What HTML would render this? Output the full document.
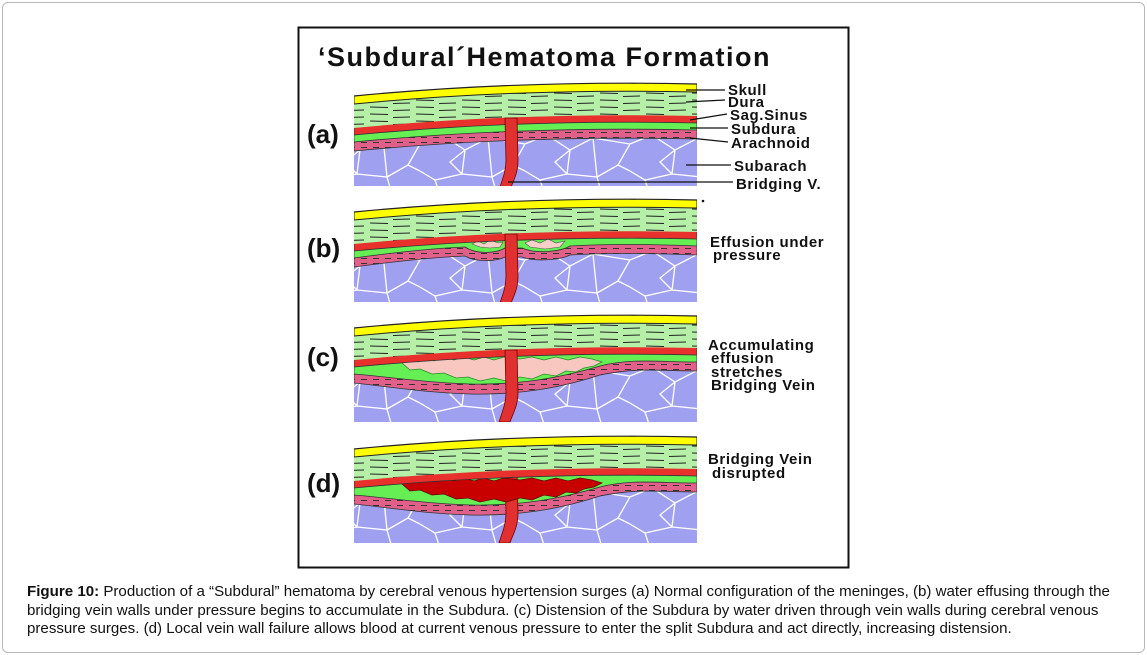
<!DOCTYPE html>
<html><head><meta charset="utf-8"><style>
html,body{margin:0;padding:0;background:#fff;}
body{width:1147px;height:655px;position:relative;overflow:hidden;font-family:"Liberation Sans",sans-serif;}
.frame{position:absolute;left:2px;top:2px;width:1141px;height:649px;border:1px solid #b8b8b8;border-radius:6px;}
.cap{position:absolute;left:27px;top:583px;width:1100px;font-size:15.1px;line-height:18.5px;color:#111;}
</style></head><body>
<div class="frame"></div>
<svg width="1147" height="655" style="position:absolute;left:0;top:0">
<defs>
<pattern id="dash" patternUnits="userSpaceOnUse" width="46" height="7">
<line x1="2" y1="2" x2="20" y2="2.5" stroke="#222" stroke-width="1"/>
<line x1="25" y1="5.5" x2="42" y2="5" stroke="#222" stroke-width="1"/>
</pattern>
<pattern id="adash" patternUnits="userSpaceOnUse" width="12" height="5">
<line x1="1" y1="2.5" x2="7" y2="2.5" stroke="#333" stroke-width="1"/>
</pattern>
<pattern id="cells" patternUnits="userSpaceOnUse" width="105" height="66">
<path d="M0,12 L22,3 L45,18 L68,6 L105,12 M22,3 L18,-3 M45,18 L42,42 L15,48 L0,39 M42,42 L72,45 L68,6 M72,45 L93,33 L105,39 M93,33 L105,12 M15,48 L21,66 M72,45 L78,66 M45,18 L30,30 L42,42" stroke="#fff" stroke-width="1.3" fill="none"/>
</pattern>
<clipPath id="pc"><rect x="354" y="70" width="343" height="120"/></clipPath>
<g id="base">
<rect x="354" y="70" width="343" height="120" fill="#a0a0f0"/>
<rect x="354" y="70" width="343" height="120" fill="url(#cells)"/>
</g>
<path id="vein" d="M505,118 L517,118 L518,160 C518,175 512,183 510,190 L499,190 C502,180 506,172 506,160 Z" fill="#e03030" stroke="#700" stroke-width="0.8"/>
<g id="top">
<path d="M354,70 L697,70 L697,116 Q520,112 354,128 Z" fill="#b6f0a8"/>
<path d="M354,70 L697,70 L697,116 Q520,112 354,128 Z" fill="url(#dash)"/>
<path d="M354,70 L697,70 L697,92 Q520,88 354,104 Z" fill="#ffff00" stroke="#222" stroke-width="1"/>
<path d="M354,60 L697,60 L697,84 Q520,80 354,96 Z" fill="#fff"/>
<path d="M697,84 Q520,80 354,96" fill="none" stroke="#222" stroke-width="1.2"/>
</g>
<path id="arS" d="M354,70 L697,70 L697,139 C660,139 640,135 600,143 C560,156 520,163 470,162 C420,160 400,156 354,151 Z"/>
<path id="subS" d="M354,70 L697,70 L697,130 C660,130 630,126 600,134 C560,146 520,153 470,152 C420,150 400,146 354,142 Z"/>
<path id="eff" d="M402,131 L410,127 L418,130 L426,126 L434,129 L444,125 L454,128 L464,125 L474,128 L484,125 L494,128 L504,125 L520,127 L532,125 L544,128 L556,125 L568,128 L580,125 L592,127 L602,130 L594,134 L584,136 L576,140 L566,139 L556,144 L544,142 L532,147 L520,145 L506,149 L494,146 L480,149 L468,145 L456,146 L444,141 L432,142 L420,137 L410,138 Z"/>
</defs>

<rect x="298.5" y="27.5" width="550" height="540" fill="#fff" stroke="#111" stroke-width="2"/>
<text x="318" y="66" font-family="Liberation Sans,sans-serif" font-weight="bold" font-size="27" letter-spacing="1.5" fill="#111">‘Subdural´Hematoma Formation</text>

<!-- Panel a -->
<g clip-path="url(#pc)">
<use href="#base"/>
<path d="M354,70 L697,70 L697,139 Q520,135 354,151 Z" fill="#e0608a" stroke="#333" stroke-width="0.8"/>
<path d="M354,70 L697,70 L697,139 Q520,135 354,151 Z" fill="url(#adash)"/>
<path d="M354,70 L697,70 L697,130 Q520,126 354,142 Z" fill="#66ee55" stroke="#333" stroke-width="0.8"/>
<path d="M354,70 L697,70 L697,123 Q520,119 354,135 Z" fill="#e8302c" stroke="#333" stroke-width="0.8"/>
<use href="#top"/>
<use href="#vein"/>
</g>

<!-- Panel b -->
<g transform="translate(0,116)">
<g clip-path="url(#pc)">
<use href="#base"/>
<path d="M354,70 L697,70 L697,139 Q620,136 570,139 C560,144 535,146 522,141 L505,141 C495,146 475,146 465,140 Q420,142 354,151 Z" fill="#e0608a" stroke="#333" stroke-width="0.8"/>
<path d="M354,70 L697,70 L697,139 Q620,136 570,139 C560,144 535,146 522,141 L505,141 C495,146 475,146 465,140 Q420,142 354,151 Z" fill="url(#adash)"/>
<path d="M354,70 L697,70 L697,130 Q620,127 570,130 C560,136 535,138 522,132 L505,132 C495,138 475,138 465,131 Q420,133 354,142 Z" fill="#66ee55" stroke="#333" stroke-width="0.8"/>
<path d="M472,128 L478,125 L484,128 L490,124 L498,127 L503,126 L500,131 L490,132 L480,131 Z" fill="#f8d0c8" stroke="#555" stroke-width="0.6"/>
<path d="M525,127 L532,124 L540,127 L548,123 L556,127 L565,125 L560,131 L545,133 L530,131 Z" fill="#f8d0c8" stroke="#555" stroke-width="0.6"/>
<path d="M354,70 L697,70 L697,123 Q520,119 354,135 Z" fill="#e8302c" stroke="#333" stroke-width="0.8"/>
<use href="#top"/>
<use href="#vein"/>
</g>
</g>

<!-- Panel c -->
<g transform="translate(0,232)">
<g clip-path="url(#pc)">
<use href="#base"/>
<use href="#arS" fill="#e0608a" stroke="#333" stroke-width="0.8"/>
<use href="#arS" fill="url(#adash)"/>
<use href="#subS" fill="#66ee55" stroke="#333" stroke-width="0.8"/>
<use href="#eff" fill="#f8c8c0" stroke="#2a8a2a" stroke-width="0.8"/>
<path d="M354,70 L697,70 L697,123 Q520,119 354,135 Z" fill="#e8302c" stroke="#333" stroke-width="0.8"/>
<use href="#top"/>
<use href="#vein"/>
</g>
</g>

<!-- Panel d -->
<g transform="translate(0,353)">
<g clip-path="url(#pc)">
<use href="#base"/>
<use href="#arS" fill="#e0608a" stroke="#333" stroke-width="0.8"/>
<use href="#arS" fill="url(#adash)"/>
<use href="#subS" fill="#66ee55" stroke="#333" stroke-width="0.8"/>
<use href="#vein"/>
<use href="#eff" fill="#c80000" stroke="#600" stroke-width="0.8"/>
<path d="M354,70 L697,70 L697,123 Q520,119 354,135 Z" fill="#e8302c" stroke="#333" stroke-width="0.8"/>
<use href="#top"/>
</g>
</g>

<g font-family="Liberation Sans,sans-serif" font-weight="bold" fill="#111">
<text x="307" y="143" font-size="26">(a)</text>
<text x="307" y="257" font-size="26">(b)</text>
<text x="307" y="366" font-size="26">(c)</text>
<text x="307" y="492" font-size="26">(d)</text>
<g font-size="15" letter-spacing="0.6">
<text x="728" y="95">Skull</text>
<text x="728" y="107">Dura</text>
<text x="730" y="120">Sag.Sinus</text>
<text x="731" y="134">Subdura</text>
<text x="731" y="148">Arachnoid</text>
<text x="734" y="171">Subarach</text>
<text x="736" y="189">Bridging V.</text>
<text x="710" y="247">Effusion under</text>
<text x="713" y="260">pressure</text>
<text x="708" y="350">Accumulating</text>
<text x="711" y="363">effusion</text>
<text x="711" y="377">stretches</text>
<text x="711" y="390">Bridging Vein</text>
<text x="708" y="464">Bridging Vein</text>
<text x="712" y="478">disrupted</text>
</g>
</g>
<g stroke="#111" stroke-width="1.2">
<line x1="686" y1="90" x2="725" y2="90"/>
<line x1="686" y1="102" x2="725" y2="100"/>
<line x1="690" y1="120" x2="727" y2="114"/>
<line x1="690" y1="128" x2="728" y2="128"/>
<line x1="690" y1="138" x2="728" y2="142"/>
<line x1="686" y1="165" x2="731" y2="165"/>
<line x1="508" y1="182" x2="733" y2="182"/>
</g>
<circle cx="703" cy="201" r="1.3" fill="#111"/>
</svg>
<div class="cap"><b>Figure 10:</b> Production of a “Subdural” hematoma by cerebral venous hypertension surges (a) Normal configuration of the meninges, (b) water effusing through the bridging vein walls under pressure begins to accumulate in the Subdura. (c) Distension of the Subdura by water driven through vein walls during cerebral venous pressure surges. (d) Local vein wall failure allows blood at current venous pressure to enter the split Subdura and act directly, increasing distension.</div>
</body></html>
